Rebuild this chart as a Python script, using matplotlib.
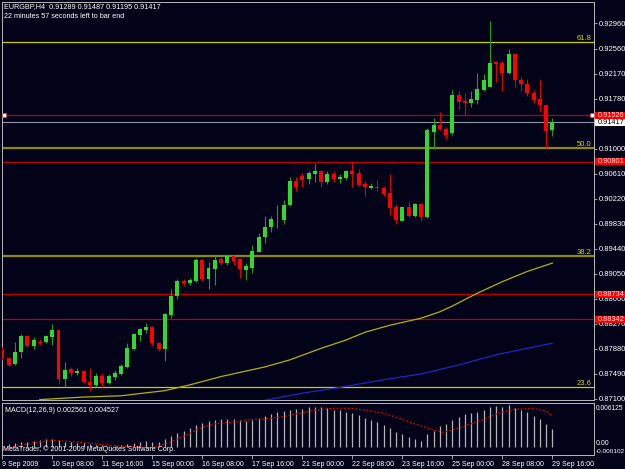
import numpy as np
import matplotlib
matplotlib.use('Agg')
import matplotlib.pyplot as plt
from matplotlib.patches import Rectangle

# EURGBP H4 candles, 9 Sep 2009 .. 29 Sep 2009 16:00
opens = [0.8786, 0.8774, 0.8764, 0.8783, 0.8808, 0.8792, 0.8799, 0.8799, 0.8807, 0.8817,
         0.8741, 0.8756, 0.8751, 0.8754, 0.8737, 0.8732, 0.8746, 0.8735, 0.8745, 0.8749,
         0.8760, 0.8788, 0.8810, 0.8817, 0.8823, 0.8798, 0.8788, 0.8841, 0.8871, 0.8894,
         0.8891, 0.8894, 0.8927, 0.8897, 0.8912, 0.8928, 0.8922, 0.8933, 0.8928, 0.8911,
         0.8915, 0.8940, 0.8962, 0.8978, 0.8990, 0.8989, 0.9012, 0.9050, 0.9058, 0.9053,
         0.9061, 0.9066, 0.9048, 0.9061, 0.9053, 0.9054, 0.9065, 0.9062, 0.9045, 0.9039,
         0.9041, 0.9039, 0.9032, 0.9010, 0.8988, 0.9010, 0.8996, 0.9014, 0.8994, 0.9127,
         0.9137, 0.9131, 0.9125, 0.9184, 0.9175, 0.9172, 0.9176, 0.9192, 0.9197, 0.9235,
         0.9234, 0.9218, 0.9248, 0.9208, 0.9201, 0.9188, 0.9178, 0.9169, 0.91289]
highs = [0.8791, 0.8776, 0.8799, 0.8811, 0.8810, 0.8806, 0.8804, 0.8810, 0.8827, 0.8818,
         0.8767, 0.8760, 0.8758, 0.8755, 0.8759, 0.8751, 0.8750, 0.8749, 0.8755, 0.8764,
         0.8798, 0.8813, 0.8821, 0.8829, 0.8824, 0.8799, 0.8844, 0.8882, 0.8897, 0.8897,
         0.8898, 0.8930, 0.8928, 0.8923, 0.8933, 0.8931, 0.8934, 0.8934, 0.8930, 0.8922,
         0.8950, 0.8969, 0.8996, 0.8995, 0.9012, 0.9020, 0.9057, 0.9057, 0.9063, 0.9066,
         0.9077, 0.9067, 0.9065, 0.9065, 0.9061, 0.9067, 0.9081, 0.9069, 0.9050, 0.9047,
         0.9051, 0.9042, 0.9061, 0.9014, 0.9010, 0.9019, 0.9016, 0.9015, 0.9132, 0.9148,
         0.9157, 0.9134, 0.9192, 0.9191, 0.9187, 0.9190, 0.9218, 0.9217, 0.9299, 0.9237,
         0.9237, 0.9256, 0.9250, 0.9212, 0.9209, 0.9192, 0.9209, 0.9169, 0.91487]
lows = [0.8771, 0.8762, 0.8763, 0.8774, 0.8791, 0.8788, 0.8794, 0.8798, 0.8794, 0.8733,
        0.8729, 0.8746, 0.8747, 0.8735, 0.8723, 0.8729, 0.8728, 0.8734, 0.8739, 0.8747,
        0.8759, 0.8786, 0.8801, 0.8813, 0.8793, 0.8785, 0.8769, 0.8837, 0.8866, 0.8886,
        0.8888, 0.8893, 0.8894, 0.8882, 0.8888, 0.8919, 0.8919, 0.8919, 0.8898, 0.8896,
        0.8907, 0.8939, 0.8954, 0.8970, 0.8977, 0.8983, 0.9011, 0.9035, 0.9041, 0.9045,
        0.9048, 0.9040, 0.9045, 0.9048, 0.9047, 0.9051, 0.9041, 0.9043, 0.9026, 0.9037,
        0.9035, 0.9026, 0.8997, 0.8983, 0.8987, 0.8994, 0.8994, 0.8988, 0.8992, 0.9100,
        0.9130, 0.9116, 0.9122, 0.9162, 0.9153, 0.9165, 0.9170, 0.9191, 0.9196, 0.9205,
        0.9191, 0.9217, 0.9196, 0.9191, 0.9182, 0.9171, 0.9158, 0.9101, 0.91195]
closes = [0.8774, 0.8763, 0.8784, 0.8809, 0.8792, 0.8802, 0.8797, 0.8808, 0.8817, 0.8741,
          0.8755, 0.8751, 0.8754, 0.8737, 0.8732, 0.8746, 0.8735, 0.8746, 0.8751, 0.8761,
          0.8789, 0.8812, 0.8819, 0.8823, 0.8797, 0.8788, 0.8843, 0.8871, 0.8894, 0.8891,
          0.8895, 0.8927, 0.8897, 0.8914, 0.8927, 0.8922, 0.8933, 0.8925, 0.8912, 0.8917,
          0.8941, 0.8963, 0.8979, 0.8990, 0.8991, 0.9013, 0.9050, 0.9040, 0.9052, 0.9063,
          0.9066, 0.9048, 0.9061, 0.9053, 0.9056, 0.9065, 0.9061, 0.9044, 0.9040, 0.9043,
          0.9039, 0.9030, 0.9008, 0.8989, 0.9009, 0.8996, 0.9014, 0.8994, 0.9130, 0.9137,
          0.9131, 0.9122, 0.9184, 0.9174, 0.9172, 0.9178, 0.9194, 0.9208, 0.9234, 0.9233,
          0.9218, 0.9248, 0.9207, 0.9201, 0.9188, 0.9176, 0.9168, 0.9128, 0.91417]

# moving averages (bar index, value)
ma_yellow_bars = [6, 13, 19, 26, 30, 35, 42, 46, 51, 55, 58, 62, 67, 70, 72, 76, 80, 84, 88]
ma_yellow_vals = [0.8709, 0.8713, 0.8715, 0.8723, 0.8732, 0.8745, 0.8760, 0.8771, 0.8789, 0.8802,
                  0.8814, 0.8825, 0.8836, 0.8846, 0.8855, 0.8875, 0.8893, 0.8909, 0.8922]
ma_blue_bars = [42, 48, 54, 61, 67, 73, 79, 88]
ma_blue_vals = [0.8708, 0.8719, 0.8728, 0.8740, 0.8749, 0.8763, 0.8779, 0.8797]

# horizontal objects
fib_levels = [0.92665, 0.91010, 0.89331, 0.87283]
fib_names = ['61.8', '50.0', '38.2', '23.6']
red_levels = [0.91526, 0.90801, 0.88734, 0.88342]
bid = 0.91417

# MACD(12,26,9)
macd = [0.00023, 0.00033, 0.00048, 0.00068, 0.00068, 0.00088, 0.00102, 0.00107, 0.00107, 0.00093,
        0.00073, 0.00063, 0.00058, 0.00048, 0.00033, 0.00023, 0.00018, 0.00013, 0.00013, 0.00018,
        0.00033, 0.00058, 0.00073, 0.00083, 0.00073, 0.00063, 0.00107, 0.00157, 0.00197, 0.00236,
        0.00276, 0.00320, 0.00355, 0.00375, 0.00395, 0.00404, 0.00410, 0.00404, 0.00395, 0.00385,
        0.00395, 0.00419, 0.00454, 0.00484, 0.00508, 0.00528, 0.00538, 0.00553, 0.00553, 0.00593,
        0.00593, 0.00583, 0.00573, 0.00543, 0.00538, 0.00513, 0.00494, 0.00469, 0.00424, 0.00395,
        0.00360, 0.00320, 0.00271, 0.00216, 0.00182, 0.00147, 0.00113, 0.00083, 0.00182, 0.00236,
        0.00305, 0.00340, 0.00395, 0.00444, 0.00479, 0.00494, 0.00518, 0.00543, 0.00583, 0.00607,
        0.00593, 0.006125, 0.00568, 0.00543, 0.00518, 0.00459, 0.00409, 0.00330, 0.002561]
signal_bars = [0, 2, 5, 7.6, 10, 13, 15.6, 18.3, 21, 23.6, 25, 27.4, 29.5, 31.6, 33.8, 36, 38, 40,
               42, 45, 47.6, 50, 53, 55.6, 58, 61, 63.6, 66, 69, 70.6, 72, 74, 77, 79.6, 82, 85, 87, 88]
signal_vals = [-0.00041, 0.0, 0.00058, 0.00088, 0.00083, 0.00058, 0.00033, 0.00013, 0.0, -0.00016,
               0.0, 0.00088, 0.00172, 0.00271, 0.00335, 0.00355, 0.00370, 0.00404, 0.00409, 0.00444,
               0.00494, 0.00543, 0.00568, 0.00568, 0.00543, 0.00494, 0.00419, 0.00335, 0.00246, 0.00211,
               0.00246, 0.00305, 0.00404, 0.00503, 0.00553, 0.00568, 0.00528, 0.004527]

price_ticks = [0.92960, 0.92560, 0.92170, 0.91780, 0.91000, 0.90610, 0.90220, 0.89830,
               0.89440, 0.89050, 0.88660, 0.88270, 0.87880, 0.87490, 0.87100]
time_tick_bars = [0, 8, 16, 24, 32, 40, 48, 56, 64, 72, 80, 88]
time_tick_labels = ['9 Sep 2009', '10 Sep 08:00', '11 Sep 16:00', '15 Sep 00:00', '16 Sep 08:00',
                    '17 Sep 16:00', '21 Sep 00:00', '22 Sep 08:00', '23 Sep 16:00', '25 Sep 00:00',
                    '28 Sep 08:00', '29 Sep 16:00']

BG = '#020219'
FRAME = '#b8b8b8'
plt.rcParams['font.family'] = ['Liberation Sans', 'DejaVu Sans']

W, H = 625, 469
fig = plt.figure(figsize=(W / 100, H / 100), dpi=100, facecolor=BG)
ax = fig.add_axes([2 / W, 1 - 400 / H, 592 / W, 398 / H], facecolor=BG)
ax2 = fig.add_axes([2 / W, 1 - 455 / H, 592 / W, 52.3 / H], facecolor=BG)

xlim = (-0.05, 94.67)
ylim = (0.87084, 0.93293)
idx = np.arange(len(closes))
o, h, l, c = map(np.array, (opens, highs, lows, closes))
up = c >= o


def price_tag(a, lvl, face, text_col):
    """Coloured price box on the right scale, about 7 px tall like MT4"""
    half = 3.4 / 398 * (ylim[1] - ylim[0])
    a.add_patch(Rectangle((1.0017, lvl - half), 0.06, 2 * half, transform=a.get_yaxis_transform(),
                          facecolor=face, edgecolor='none', clip_on=False, zorder=6))
    a.text(1.006, lvl, f'{lvl:.5f}', transform=a.get_yaxis_transform(), color=text_col,
           fontsize=5.3, ha='left', va='center', clip_on=False, zorder=7)


# --- main price window ---
for lvl, name in zip(fib_levels, fib_names):
    bright = name in ('61.8', '23.6')
    col = '#cccc00' if bright else '#8c8c00'
    ax.axhline(lvl, color=col, lw=0.9 if bright else 1.6, zorder=1)
    ax.text(xlim[1] - 0.4, lvl, name, color='#d8d800', fontsize=5.5, ha='right', va='bottom')
for lvl in red_levels:
    ax.axhline(lvl, color='#c00000', lw=0.9, zorder=1)
ax.axhline(bid, color='#8c98a8', lw=0.8, zorder=1)
ax.plot([xlim[0] + 0.35, xlim[1] - 0.35], [red_levels[0]] * 2, 's', ms=2.2,
        mfc='white', mec='#ff3030', mew=0.5, zorder=6, clip_on=False)

ax.plot(ma_yellow_bars, ma_yellow_vals, color='#b4b400', lw=0.9, zorder=2)
ax.plot(ma_blue_bars, ma_blue_vals, color='#2323c8', lw=0.9, zorder=2)

ax.vlines(idx, l, h, colors=np.where(up, '#18a018', '#e00000'), lw=0.8, zorder=3)
ax.bar(idx, np.maximum(np.abs(c - o), 0.00006), bottom=np.minimum(o, c), width=0.62,
       color=np.where(up, '#30d830', '#ff0000'), linewidth=0, zorder=4)

ax.set_xlim(xlim)
ax.set_ylim(ylim)
ax.set_xticks([])
ax.yaxis.tick_right()
ax.set_yticks(price_ticks)
ax.set_yticklabels([f'{p:.5f}' for p in price_ticks])
ax.tick_params(axis='y', colors=FRAME, labelcolor='white', labelsize=5.5, length=2, width=0.6, pad=1.5)

# price labels on the right scale
for lvl in red_levels:
    price_tag(ax, lvl, '#ff0000', '#ffd8d8')
price_tag(ax, bid, 'white', 'black')

# --- MACD window ---
ax2.vlines(idx, 0, macd, colors='#b4b4b4', lw=0.9)
ax2.plot(signal_bars, signal_vals, color='#e00000', lw=0.9, ls=(0, (1.5, 1.5)))
ax2.set_xlim(xlim)
ax2.set_ylim(-0.00125, 0.00651)
ax2.set_yticks([])
ax2.set_xticks(time_tick_bars)
ax2.set_xticklabels(time_tick_labels, ha='left')
ax2.tick_params(axis='x', colors=FRAME, labelcolor='white', labelsize=5, length=3, width=0.6, pad=1)

# MACD scale labels, placed by pixel row inside the sub-window
for txt, ypix, fs in [('0.006125', 408, 4.8), ('0.00', 443, 5.0), ('-0.000102', 451, 4.6)]:
    fig.text(596 / W, 1 - ypix / H, txt, color='white', fontsize=fs, va='center')

for a in (ax, ax2):
    for s in a.spines.values():
        s.set_color(FRAME)
        s.set_linewidth(0.7)

# captions
fig.text(4 / W, 1 - 7 / H, 'EURGBP,H4  0.91289 0.91487 0.91195 0.91417', color='white', fontsize=5.2, va='center')
fig.text(4 / W, 1 - 16.5 / H, '22 minutes 57 seconds left to bar end', color='white', fontsize=5.2, va='center')
fig.text(5 / W, 1 - 410 / H, 'MACD(12,26,9) 0.002561 0.004527', color='white', fontsize=5.1, va='center')
fig.text(3 / W, 1 - 449 / H, 'MetaTrader, \u00a9 2001-2009 MetaQuotes Software Corp.', color='white',
         fontsize=5.1, va='center')

fig.savefig('out.png', dpi=100, facecolor=BG)
